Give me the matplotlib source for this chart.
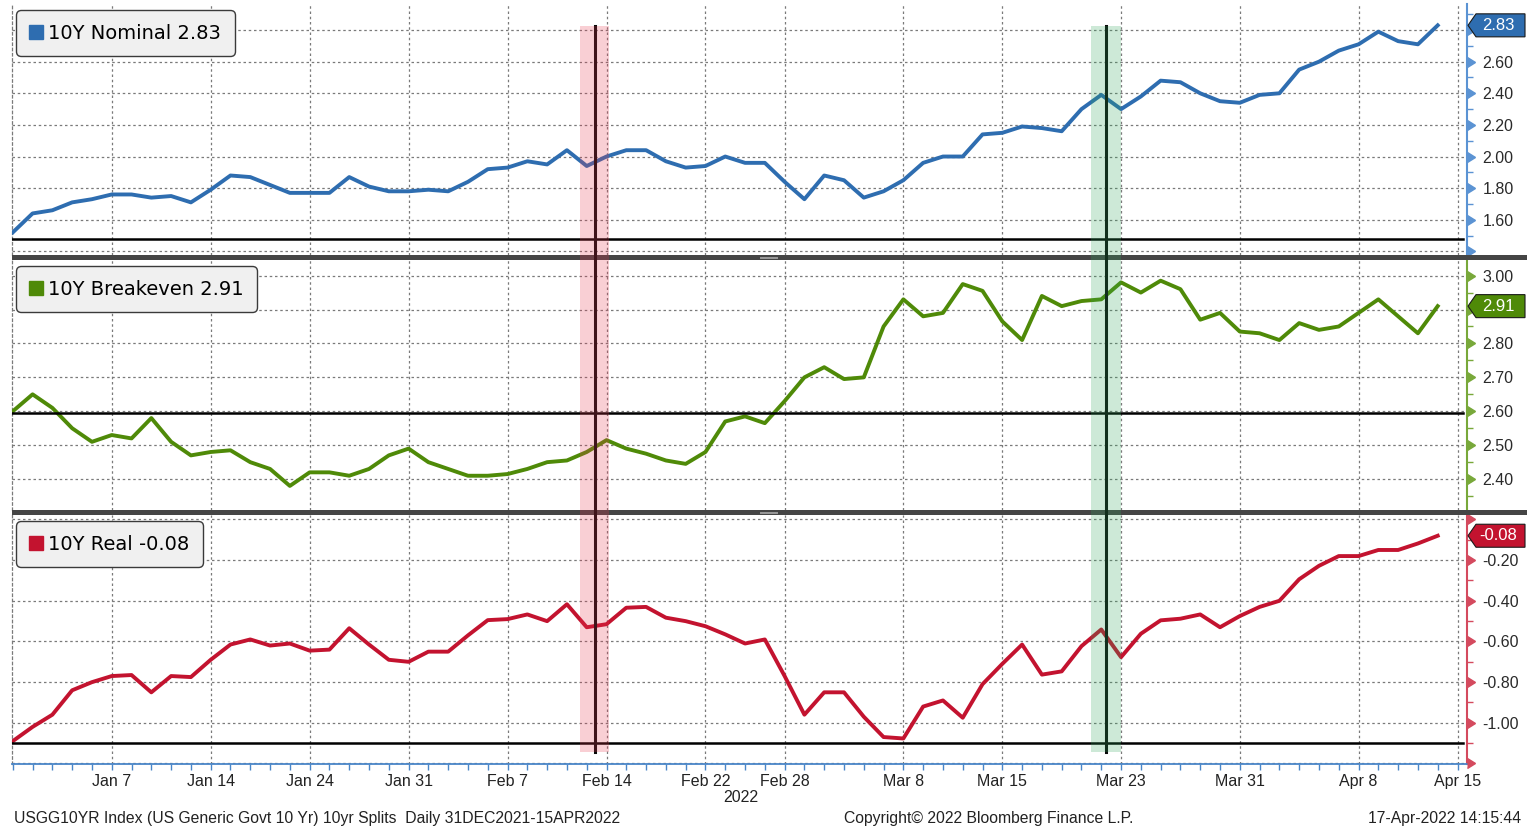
import matplotlib
matplotlib.use('Agg')
import matplotlib.pyplot as plt
import numpy as np
import pandas as pd
from matplotlib.lines import Line2D
from matplotlib.patches import Rectangle, Polygon
from matplotlib import transforms

plt.rcParams['font.family'] = ['Liberation Sans', 'DejaVu Sans']

# ---------------- data ----------------
holidays = ['2022-01-17', '2022-02-21']
dates = [d for d in pd.bdate_range('2021-12-31', '2022-04-15')
         if d.strftime('%Y-%m-%d') not in holidays]

nominal = [1.52, 1.64, 1.66, 1.71, 1.73, 1.76, 1.76, 1.74, 1.75, 1.71,
           1.79, 1.88, 1.87, 1.82, 1.77, 1.77, 1.77, 1.87, 1.81, 1.78,
           1.78, 1.79, 1.78, 1.84, 1.92, 1.93, 1.97, 1.95, 2.04, 1.94,
           2.00, 2.04, 2.04, 1.97, 1.93, 1.94, 2.00, 1.96, 1.96, 1.84,
           1.73, 1.88, 1.85, 1.74, 1.78, 1.85, 1.96, 2.00, 2.00, 2.14,
           2.15, 2.19, 2.18, 2.16, 2.30, 2.39, 2.30, 2.38, 2.48, 2.47,
           2.40, 2.35, 2.34, 2.39, 2.40, 2.55, 2.60, 2.67, 2.71, 2.79,
           2.73, 2.71, 2.83]

breakeven = [2.60, 2.65, 2.61, 2.55, 2.51, 2.53, 2.52, 2.58, 2.51, 2.47,
             2.48, 2.485, 2.45, 2.43, 2.38, 2.42, 2.42, 2.41, 2.43, 2.47,
             2.49, 2.45, 2.43, 2.41, 2.41, 2.415, 2.43, 2.45, 2.455, 2.48,
             2.515, 2.49, 2.475, 2.455, 2.445, 2.48, 2.57, 2.585, 2.565, 2.63,
             2.70, 2.73, 2.695, 2.70, 2.85, 2.93, 2.88, 2.89, 2.975, 2.955,
             2.865, 2.81, 2.94, 2.91, 2.925, 2.93, 2.98, 2.95, 2.985, 2.96,
             2.87, 2.89, 2.835, 2.83, 2.81, 2.86, 2.84, 2.85, 2.89, 2.93,
             2.88, 2.83, 2.91]

real = [-1.09, -1.02, -0.96, -0.84, -0.80, -0.77, -0.765, -0.85, -0.77, -0.775,
        -0.69, -0.615, -0.59, -0.62, -0.61, -0.645, -0.64, -0.535, -0.615, -0.69,
        -0.70, -0.65, -0.65, -0.57, -0.495, -0.49, -0.467, -0.50, -0.417, -0.53,
        -0.515, -0.434, -0.43, -0.483, -0.50, -0.525, -0.565, -0.61, -0.59, -0.77,
        -0.96, -0.85, -0.85, -0.97, -1.07, -1.077, -0.92, -0.89, -0.975, -0.81,
        -0.71, -0.615, -0.763, -0.747, -0.623, -0.541, -0.677, -0.562, -0.496, -0.488,
        -0.467, -0.53, -0.475, -0.43, -0.40, -0.294, -0.228, -0.18, -0.18, -0.15,
        -0.15, -0.118, -0.08]

series_names = ['10Y Nominal 2.83', '10Y Breakeven 2.91', '10Y Real -0.08']
last_values = ['2.83', '2.91', '-0.08']
tick_dates = ['Jan 7', 'Jan 14', 'Jan 24', 'Jan 31', 'Feb 7', 'Feb 14', 'Feb 22',
              'Feb 28', 'Mar 8', 'Mar 15', 'Mar 23', 'Mar 31', 'Apr 8', 'Apr 15']
ref_levels = [1.477, 2.595, -1.099]
event_positions = [29.4, 55.24]

top_ticks = [1.40, 1.60, 1.80, 2.00, 2.20, 2.40, 2.60, 2.80]
top_labels = ['', '1.60', '1.80', '2.00', '2.20', '2.40', '2.60', '']
mid_ticks = [2.40, 2.50, 2.60, 2.70, 2.80, 2.90, 3.00]
mid_labels = ['2.40', '2.50', '2.60', '2.70', '2.80', '', '3.00']
bot_ticks = [-1.20, -1.00, -0.80, -0.60, -0.40, -0.20, 0.00]
bot_labels = ['', '-1.00', '-0.80', '-0.60', '-0.40', '-0.20', '']

# ---------------- layout ----------------
W, H = 1527, 831
fig = plt.figure(figsize=(W / 100, H / 100), dpi=100)
fig.patch.set_facecolor('white')


def fy(py):
    return 1 - py / H


L, R = 12 / W, 1467 / W
panels = [(4, 255), (260, 510), (515, 764)]

x = np.arange(len(nominal))
date_strs = [d.strftime('%b %-d') for d in dates]
label_idx = [date_strs.index(t) for t in tick_dates]

specs = [
    dict(vals=nominal, color='#2e6db0', axc='#5b93d3', ylim=(1.377, 2.965),
         ticks=top_ticks, labels=top_labels, minor=np.arange(1.5, 2.95, 0.2)),
    dict(vals=breakeven, color='#4f8a08', axc='#78a83a', ylim=(2.309, 3.046),
         ticks=mid_ticks, labels=mid_labels, minor=np.arange(2.35, 3.05, 0.1)),
    dict(vals=real, color='#c3132f', axc='#d44a5e', ylim=(-1.2025, 0.022),
         ticks=bot_ticks, labels=bot_labels, minor=np.arange(-1.1, 0.0, 0.2)),
]

axes = []
for i, ((top, bot), sp) in enumerate(zip(panels, specs)):
    ax = fig.add_axes([L, fy(bot), R - L, (bot - top) / H])
    axes.append(ax)
    ax.set_xlim(-0.04, 73.48)
    ax.set_ylim(*sp['ylim'])
    ax.plot(x, sp['vals'], color=sp['color'], lw=2.8, solid_joinstyle='round', zorder=3)
    ax.axhline(ref_levels[i], xmin=0, xmax=0.997, color='black', lw=1.8, zorder=4)

    ax.set_xticks(label_idx)
    ax.set_xticks(x.tolist() + [73], minor=True)
    ax.grid(True, which='major', color='#7a7a7a', ls=(0, (2, 2.2)), lw=0.9)
    ax.set_yticks(sp['ticks'], labels=sp['labels'])
    ax.set_yticks(sp['minor'], minor=True)
    ax.yaxis.tick_right()
    ax.tick_params(axis='y', which='major', length=0, pad=11, labelsize=11.5,
                   labelcolor='#2a2a2a', right=True, left=False)
    ax.tick_params(axis='y', which='minor', length=4, width=1, color=sp['axc'],
                   right=True, left=False)
    for s in ['top', 'bottom']:
        ax.spines[s].set_visible(False)
    ax.spines['left'].set_linestyle((0, (2, 2.2)))
    ax.spines['left'].set_color('#7a7a7a')
    ax.spines['left'].set_linewidth(0.9)
    ax.spines['right'].set_color(sp['axc'])
    ax.spines['right'].set_linewidth(1.5)
    # triangle ticks
    tr = transforms.blended_transform_factory(ax.transAxes, ax.transData)
    ax.plot([1.0] * len(sp['ticks']), sp['ticks'], transform=tr, marker=9, ms=7.5,
            color=sp['axc'], ls='none', clip_on=False, zorder=5)
    if i < 2:
        ax.tick_params(axis='x', which='both', length=0, labelbottom=False)
    else:
        ax.spines['bottom'].set_visible(True)
        ax.spines['bottom'].set_color('#4a86c8')
        ax.spines['bottom'].set_linewidth(1.3)
        ax.set_xticklabels(tick_dates)
        ax.tick_params(axis='x', which='both', length=4, width=1, color='#4a86c8',
                       labelsize=11.5, labelcolor='#222222', pad=3)

    # legend
    h = Line2D([], [], marker='s', ls='none', ms=10.5, markerfacecolor=sp['color'],
               markeredgecolor=sp['color'])
    leg = ax.legend([h], [series_names[i]], loc='upper left',
                    bbox_to_anchor=(16 / W, fy(top + 6)), bbox_transform=fig.transFigure,
                    borderaxespad=0, prop={'family': 'DejaVu Sans', 'size': 14},
                    handlelength=0.7, handletextpad=0.25, borderpad=0.7,
                    fancybox=True, framealpha=1, facecolor='#f0f0f0', edgecolor='#3a3a3a')
    leg.get_frame().set_linewidth(1.0)
    leg.get_frame().set_boxstyle('round,pad=0,rounding_size=0.25')
    leg.set_zorder(10)

# separators between panels
for ysep in [255, 510]:
    fig.patches.append(Rectangle((12 / W, fy(ysep + 5)), 1 - 12 / W, 5 / H,
                                 transform=fig.transFigure, facecolor='#454545',
                                 edgecolor='none', zorder=5))
    for dy in [1.8, 3.3]:
        fig.lines.append(Line2D([760 / W, 777 / W], [fy(ysep + dy)] * 2,
                                transform=fig.transFigure, color='#9a9a9a', lw=0.7, zorder=6))

# event lines and bands spanning all panels
btr = transforms.blended_transform_factory(axes[0].transData, fig.transFigure)
band_colors = ['#e8384f', '#2ea55a']
for pos, bc in zip(event_positions, band_colors):
    fig.lines.append(Line2D([pos, pos], [fy(752), fy(26)], transform=btr,
                            color='#0a0a0a', lw=2.2, zorder=7))
    fig.patches.append(Rectangle((pos - 0.74, fy(752)), 1.48, (752 - 26) / H,
                                 transform=btr, facecolor=bc, alpha=0.24,
                                 edgecolor='none', zorder=8))

# value badges
for ax, sp, txt in zip(axes, specs, last_values):
    yc = ax.transData.transform((0, float(txt)))[1]
    hh = 11.5
    poly = Polygon([(1468, yc), (1476, yc + hh), (1525, yc + hh), (1525, yc - hh),
                    (1476, yc - hh)], closed=True, transform=None,
                   facecolor=sp['color'], edgecolor='#1a1a1a', lw=0.8, zorder=9)
    fig.patches.append(poly)
    fig.text(1498 / W, yc / H, txt, color='white', fontsize=12, ha='center',
             va='center', zorder=10)

# footer text
fs = 11.3
fig.text(741 / W, fy(797), '2022', ha='center', va='center', fontsize=11.5, color='#222222')
fig.text(14 / W, fy(819), 'USGG10YR Index (US Generic Govt 10 Yr) 10yr Splits  Daily 31DEC2021-15APR2022',
         ha='left', va='center', fontsize=fs, color='#222222')
fig.text(989 / W, fy(819), 'Copyright\u00a9 2022 Bloomberg Finance L.P.',
         ha='center', va='center', fontsize=fs, color='#222222')
fig.text(1521 / W, fy(819), '17-Apr-2022 14:15:44', ha='right', va='center',
         fontsize=fs, color='#222222')

fig.savefig('out.png', dpi=100, facecolor='white')
